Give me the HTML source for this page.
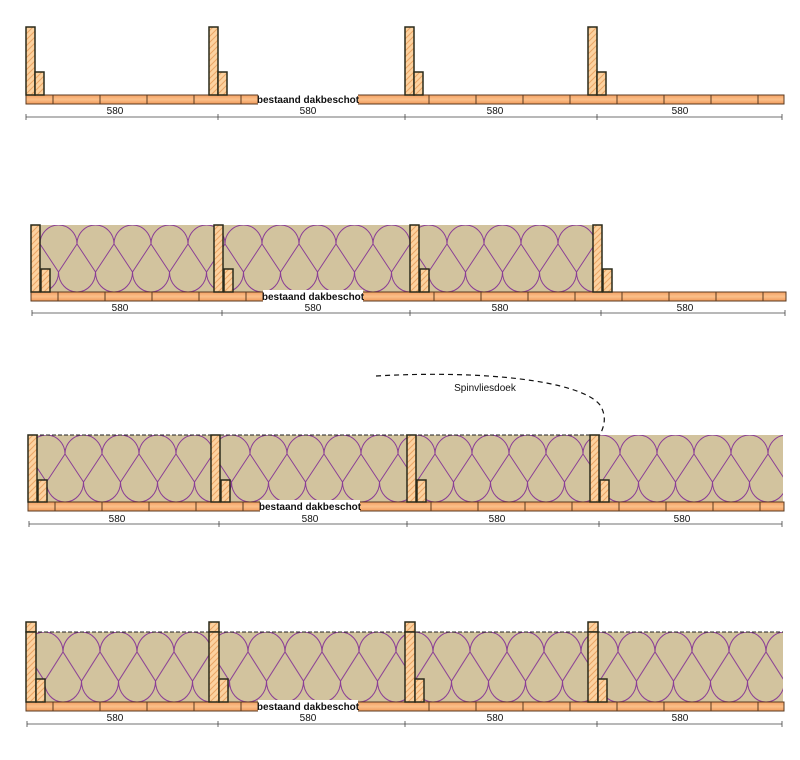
<!DOCTYPE html>
<html><head><meta charset="utf-8"><style>
html,body{margin:0;padding:0;background:#fff;width:800px;height:760px;overflow:hidden}
svg{display:block}
text{font-family:"Liberation Sans",sans-serif;font-size:10px;fill:#111}
</style></head><body>
<svg width="800" height="760" viewBox="0 0 800 760" xmlns="http://www.w3.org/2000/svg">
<defs>
<pattern id="hatch" patternUnits="userSpaceOnUse" width="6" height="6">
<rect width="6" height="6" fill="#fcd2a0"/>
<path d="M-1,7 L7,-1 M-1,1 L1,-1 M5,7 L7,5" stroke="#eaa565" stroke-width="1"/>
</pattern>
<pattern id="ins" patternUnits="userSpaceOnUse" width="37" height="67">
<rect width="37" height="67" fill="#d2c39e"/>
<path d="M0,19 A18.5,19 0 0 1 37,19 M-18.5,47 A18.5,20 0 0 0 18.5,47 M18.5,47 A18.5,20 0 0 0 55.5,47 M0,19 L18.5,47 L37,19" fill="none" stroke="#8a3e95" stroke-width="1"/>
</pattern>
<linearGradient id="brd" x1="0" y1="0" x2="0" y2="1">
<stop offset="0" stop-color="#f4a163"/><stop offset="0.5" stop-color="#fbc08a"/><stop offset="1" stop-color="#f19a5a"/>
</linearGradient>
</defs>

<!-- ROW 1 -->
<g>
<rect x="26" y="95" width="758" height="9" fill="url(#brd)" stroke="#5a3a20" stroke-width="1"/>
<path d="M53,95v9M100,95v9M147,95v9M194,95v9M241,95v9M429,95v9M476,95v9M523,95v9M570,95v9M617,95v9M664,95v9M711,95v9M758,95v9" stroke="#5a3a20"/>
<rect x="258" y="93" width="100" height="12" fill="#fff"/>
<text x="308" y="103" text-anchor="middle" font-weight="bold">bestaand dakbeschot</text>
<g fill="url(#hatch)" stroke="#2a2a1a" stroke-width="1.5">
<rect x="26" y="27" width="9" height="68"/><rect x="35" y="72" width="9" height="23"/>
<rect x="209" y="27" width="9" height="68"/><rect x="218" y="72" width="9" height="23"/>
<rect x="405" y="27" width="9" height="68"/><rect x="414" y="72" width="9" height="23"/>
<rect x="588" y="27" width="9" height="68"/><rect x="597" y="72" width="9" height="23"/>
</g>
<path d="M26,117H782M26,114v6M218,114v6M405,114v6M597,114v6M782,114v6" stroke="#444" stroke-width="0.8"/>
<text x="115" y="114" text-anchor="middle">580</text><text x="308" y="114" text-anchor="middle">580</text>
<text x="495" y="114" text-anchor="middle">580</text><text x="680" y="114" text-anchor="middle">580</text>
</g>

<!-- ROW 2 -->
<g>
<g transform="translate(40,225)"><rect width="562" height="67" fill="url(#ins)"/></g>
<rect x="31" y="292" width="755" height="9" fill="url(#brd)" stroke="#5a3a20" stroke-width="1"/>
<path d="M58,292v9M105,292v9M152,292v9M199,292v9M246,292v9M434,292v9M481,292v9M528,292v9M575,292v9M622,292v9M669,292v9M716,292v9M763,292v9" stroke="#5a3a20"/>
<rect x="263" y="290" width="100" height="12" fill="#fff"/>
<text x="313" y="300" text-anchor="middle" font-weight="bold">bestaand dakbeschot</text>
<g fill="url(#hatch)" stroke="#2a2a1a" stroke-width="1.5">
<rect x="31" y="225" width="9" height="67"/><rect x="41" y="269" width="9" height="23"/>
<rect x="214" y="225" width="9" height="67"/><rect x="224" y="269" width="9" height="23"/>
<rect x="410" y="225" width="9" height="67"/><rect x="420" y="269" width="9" height="23"/>
<rect x="593" y="225" width="9" height="67"/><rect x="603" y="269" width="9" height="23"/>
</g>
<path d="M32,313H785M32,310v6M222,310v6M410,310v6M601,310v6M785,310v6" stroke="#444" stroke-width="0.8"/>
<text x="120" y="311" text-anchor="middle">580</text><text x="313" y="311" text-anchor="middle">580</text>
<text x="500" y="311" text-anchor="middle">580</text><text x="685" y="311" text-anchor="middle">580</text>
</g>

<!-- ROW 3 -->
<g>
<g transform="translate(28,435)"><rect width="755" height="67" fill="url(#ins)"/></g>
<path d="M28,435H600" stroke="#222" stroke-width="1" stroke-dasharray="4,2"/>
<path d="M376,376 C480,370 580,380 600,405 C608,418 603,428 600,435" fill="none" stroke="#111" stroke-width="1.2" stroke-dasharray="5,4"/>
<text x="485" y="391" text-anchor="middle">Spinvliesdoek</text>
<rect x="28" y="502" width="756" height="9" fill="url(#brd)" stroke="#5a3a20" stroke-width="1"/>
<path d="M55,502v9M102,502v9M149,502v9M196,502v9M243,502v9M431,502v9M478,502v9M525,502v9M572,502v9M619,502v9M666,502v9M713,502v9M760,502v9" stroke="#5a3a20"/>
<rect x="260" y="500" width="100" height="12" fill="#fff"/>
<text x="310" y="510" text-anchor="middle" font-weight="bold">bestaand dakbeschot</text>
<g fill="url(#hatch)" stroke="#2a2a1a" stroke-width="1.5">
<rect x="28" y="435" width="9" height="67"/><rect x="38" y="480" width="9" height="22"/>
<rect x="211" y="435" width="9" height="67"/><rect x="221" y="480" width="9" height="22"/>
<rect x="407" y="435" width="9" height="67"/><rect x="417" y="480" width="9" height="22"/>
<rect x="590" y="435" width="9" height="67"/><rect x="600" y="480" width="9" height="22"/>
</g>
<path d="M29,524H782M29,521v6M219,521v6M407,521v6M599,521v6M782,521v6" stroke="#444" stroke-width="0.8"/>
<text x="117" y="522" text-anchor="middle">580</text><text x="310" y="522" text-anchor="middle">580</text>
<text x="497" y="522" text-anchor="middle">580</text><text x="682" y="522" text-anchor="middle">580</text>
</g>

<!-- ROW 4 -->
<g>
<g transform="translate(26,632)"><rect width="757" height="70" fill="url(#ins)" transform="scale(1,1.045)"/></g>
<path d="M26,632H783" stroke="#222" stroke-width="1" stroke-dasharray="4,2"/>
<rect x="26" y="702" width="758" height="9" fill="url(#brd)" stroke="#5a3a20" stroke-width="1"/>
<path d="M53,702v9M100,702v9M147,702v9M194,702v9M241,702v9M429,702v9M476,702v9M523,702v9M570,702v9M617,702v9M664,702v9M711,702v9M758,702v9" stroke="#5a3a20"/>
<rect x="258" y="700" width="100" height="12" fill="#fff"/>
<text x="308" y="710" text-anchor="middle" font-weight="bold">bestaand dakbeschot</text>
<g fill="url(#hatch)" stroke="#2a2a1a" stroke-width="1.5">
<rect x="26" y="622" width="10" height="10"/><rect x="26" y="632" width="10" height="70"/><rect x="36" y="679" width="9" height="23"/>
<rect x="209" y="622" width="10" height="10"/><rect x="209" y="632" width="10" height="70"/><rect x="219" y="679" width="9" height="23"/>
<rect x="405" y="622" width="10" height="10"/><rect x="405" y="632" width="10" height="70"/><rect x="415" y="679" width="9" height="23"/>
<rect x="588" y="622" width="10" height="10"/><rect x="588" y="632" width="10" height="70"/><rect x="598" y="679" width="9" height="23"/>
</g>
<path d="M27,724H782M27,721v6M218,721v6M405,721v6M597,721v6M782,721v6" stroke="#444" stroke-width="0.8"/>
<text x="115" y="721" text-anchor="middle">580</text><text x="308" y="721" text-anchor="middle">580</text>
<text x="495" y="721" text-anchor="middle">580</text><text x="680" y="721" text-anchor="middle">580</text>
</g>
</svg>
</body></html>
